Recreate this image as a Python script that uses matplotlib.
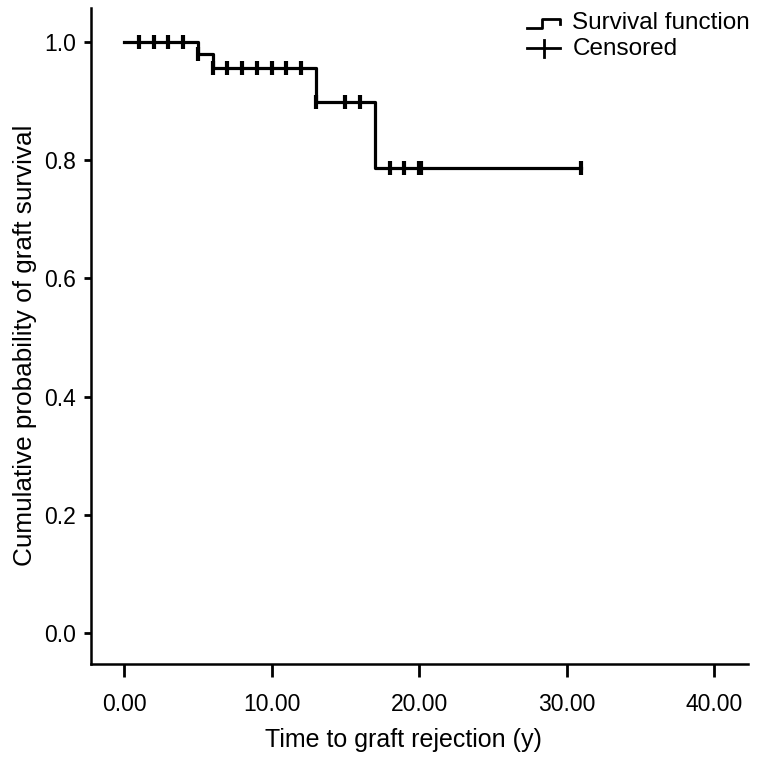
import matplotlib.pyplot as plt
from matplotlib.legend_handler import HandlerBase
from matplotlib.lines import Line2D

plt.rcParams['font.family'] = ['Liberation Sans', 'DejaVu Sans']

# Kaplan-Meier step data
step_times = [0, 5, 6, 13, 17, 31]
step_surv = [1.0, 0.980, 0.956, 0.899, 0.787, 0.787]

# censored observations
cens_times = [1, 2, 3, 4, 5, 6, 7, 8, 9, 10, 11, 12, 13, 15, 16, 18, 19, 20, 20.1, 31]
cens_surv = [1.0, 1.0, 1.0, 1.0, 0.980, 0.956, 0.956, 0.956, 0.956, 0.956, 0.956,
             0.956, 0.899, 0.899, 0.899, 0.787, 0.787, 0.787, 0.787, 0.787]

xticks = [0, 10, 20, 30, 40]
xticklabels = ['0.00', '10.00', '20.00', '30.00', '40.00']
yticks = [0.0, 0.2, 0.4, 0.6, 0.8, 1.0]


class StepHandler(HandlerBase):
    def create_artists(self, legend, orig, xd, yd, w, h, fontsize, trans):
        xs = [xd, xd + 0.45 * w, xd + 0.45 * w, xd + w, xd + w]
        ys = [yd + 0.05 * h, yd + 0.05 * h, yd + 0.6 * h, yd + 0.6 * h, yd + 0.3 * h]
        return [Line2D(xs, ys, color='black', lw=2.0, transform=trans)]


class CrossHandler(HandlerBase):
    def create_artists(self, legend, orig, xd, yd, w, h, fontsize, trans):
        hl = Line2D([xd, xd + w], [yd + 0.4 * h] * 2, color='black', lw=2.0, transform=trans)
        vl = Line2D([xd + 0.5 * w] * 2, [yd - 0.15 * h, yd + 0.85 * h], color='black', lw=2.0,
                    transform=trans)
        return [hl, vl]


fig = plt.figure(figsize=(7.57, 7.57), dpi=100)
ax = fig.add_axes([0.1202, 0.1229, 0.868, 0.8666])

ax.step(step_times, step_surv, where='post', color='black', lw=2.3)
ax.plot(cens_times, cens_surv, linestyle='none', marker='|', markersize=10.5,
        markeredgewidth=3, color='black')

ax.set_xlim(-2.24, 42.3)
ax.set_ylim(-0.052, 1.0575)
ax.set_xticks(xticks)
ax.set_xticklabels(xticklabels)
ax.set_yticks(yticks)
ax.set_yticklabels([f'{v:.1f}' for v in yticks])

for s in ['top', 'right']:
    ax.spines[s].set_visible(False)
for s in ['left', 'bottom']:
    ax.spines[s].set_linewidth(1.8)

ax.tick_params(axis='x', direction='out', length=9, width=2, pad=12, labelsize=16.5)
ax.tick_params(axis='y', direction='out', length=5, width=2, pad=6, labelsize=16.5)

ax.set_xlabel('Time to graft rejection (y)', fontsize=18, labelpad=11)
ax.set_ylabel('Cumulative probability of graft survival', fontsize=18.8, labelpad=5)
ax.xaxis.set_label_coords(0.475, -0.097)
ax.yaxis.label.set_y(0.486)

h1 = Line2D([], [])
h2 = Line2D([], [])
fig.legend([h1, h2], ['Survival function', 'Censored'],
           handler_map={h1: StepHandler(), h2: CrossHandler()},
           loc='upper right', bbox_to_anchor=(750 / 757, 1 - 12 / 757), frameon=False,
           borderpad=0, borderaxespad=0, fontsize=17.5, handlelength=1.36,
           handletextpad=0.5, labelspacing=0.15)

fig.savefig('out.png', dpi=100)
